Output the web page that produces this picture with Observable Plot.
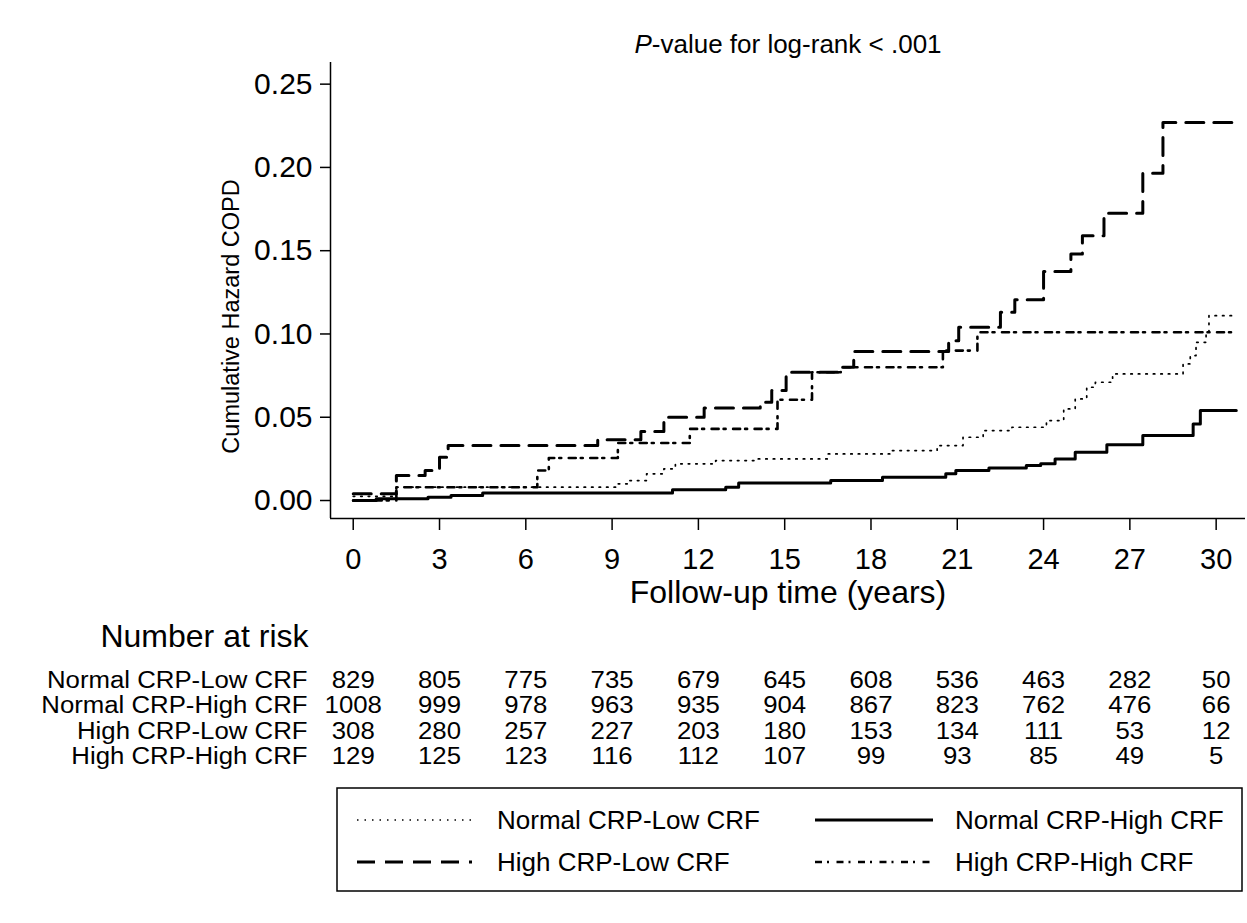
<!DOCTYPE html>
<html>
<head>
<meta charset="utf-8">
<script src="https://cdn.jsdelivr.net/npm/d3@7"></script>
<script src="https://cdn.jsdelivr.net/npm/@observablehq/plot@0.6"></script>
<style>
  html, body { margin: 0; padding: 0; background: #fff; }
  #chart { width: 1247px; height: 923px; }
</style>
</head>
<body>
<div id="chart"></div>
<script>
// ---------------- DATA ----------------
const groups = ["Normal CRP-Low CRF", "Normal CRP-High CRF", "High CRP-Low CRF", "High CRP-High CRF"];

// Normal CRP-Low CRF (dotted) – step times and cumulative hazard
const tNL = [0, 1.5, 9.2, 9.6, 10.2, 10.8, 11.2, 12.6, 14.0, 16.5, 18.7, 20.3, 21.2, 21.9, 22.9, 24.1, 24.7, 25.1, 25.5, 25.8, 26.4, 28.85, 29.1, 29.3, 29.65, 29.75];
const vNL = [0.0025, 0.008, 0.010, 0.012, 0.016, 0.019, 0.022, 0.024, 0.025, 0.028, 0.030, 0.033, 0.038, 0.042, 0.044, 0.048, 0.055, 0.061, 0.068, 0.071, 0.076, 0.082, 0.087, 0.095, 0.101, 0.111];
const endNL = 30.7;

// Normal CRP-High CRF (solid)
const tNH = [0, 0.8, 2.6, 3.4, 4.5, 11.1, 12.95, 13.4, 16.6, 18.4, 20.6, 20.95, 22.1, 23.4, 23.9, 24.4, 25.1, 26.2, 27.45, 29.2, 29.45];
const vNH = [0.000, 0.001, 0.002, 0.003, 0.0045, 0.0065, 0.008, 0.0105, 0.012, 0.014, 0.016, 0.018, 0.0195, 0.021, 0.022, 0.025, 0.029, 0.0335, 0.039, 0.046, 0.054];
const endNH = 30.7;

// High CRP-Low CRF (dashed)
const tHL = [0, 1.5, 2.5, 3.0, 3.3, 8.5, 10.0, 10.8, 12.2, 14.15, 14.55, 15.05, 16.9, 17.4, 20.7, 21.05, 22.5, 23.0, 24.0, 24.95, 25.35, 26.1, 27.45, 28.15];
const vHL = [0.004, 0.015, 0.018, 0.026, 0.033, 0.0365, 0.0415, 0.050, 0.0555, 0.059, 0.066, 0.077, 0.080, 0.0895, 0.096, 0.104, 0.113, 0.1205, 0.1375, 0.148, 0.159, 0.1725, 0.1965, 0.227];
const endHL = 30.85;

// High CRP-High CRF (dash-dot)
const tHH = [0, 1.5, 6.4, 6.8, 9.2, 11.7, 14.75, 15.95, 16.95, 20.5, 21.7];
const vHH = [0.000, 0.008, 0.018, 0.0255, 0.0345, 0.043, 0.0605, 0.077, 0.080, 0.090, 0.101];
const endHH = 30.6;

// Number at risk
const riskTimes = [0, 3, 6, 9, 12, 15, 18, 21, 24, 27, 30];
const riskNL = [829, 805, 775, 735, 679, 645, 608, 536, 463, 282, 50];
const riskNH = [1008, 999, 978, 963, 935, 904, 867, 823, 762, 476, 66];
const riskHL = [308, 280, 257, 227, 203, 180, 153, 134, 111, 53, 12];
const riskHH = [129, 125, 123, 116, 112, 107, 99, 93, 85, 49, 5];

// Axes
const xTicks = [0, 3, 6, 9, 12, 15, 18, 21, 24, 27, 30];
const yTicks = [0, 0.05, 0.10, 0.15, 0.20, 0.25];
const titleText = "P-value for log-rank < .001";
const yLabel = "Cumulative Hazard COPD";
const xLabel = "Follow-up time (years)";
const riskTitle = "Number at risk";

// ---------------- CHART ----------------
const FONT = "'Liberation Sans', Arial, Helvetica, sans-serif";

const series = [
  {name: groups[0], t: tNL, v: vNL, end: endNL, risk: riskNL, dash: "1.5,6", width: 1.7},
  {name: groups[1], t: tNH, v: vNH, end: endNH, risk: riskNH, dash: null, width: 3},
  {name: groups[2], t: tHL, v: vHL, end: endHL, risk: riskHL, dash: "18,10", width: 3},
  {name: groups[3], t: tHH, v: vHH, end: endHH, risk: riskHH, dash: "7,5,2,7.5", width: 2.6}
];
const lineOrder = [0, 2, 3, 1];

function steps(s) {
  const rows = s.t.map((t, i) => ({t, v: s.v[i]}));
  rows.push({t: s.end, v: s.v[s.v.length - 1]});
  return rows;
}

const xDomain = [-0.79, 31.02];
const yDomain = [-0.0108, 0.263];
const rowDy = [162, 187.5, 213, 238.5];
const RISK_FS = 23;

const marks = [
  Plot.ruleX([xDomain[0]], {strokeWidth: 1.5}),
  Plot.ruleY([yDomain[0]], {strokeWidth: 1.5}),
  Plot.axisY({ticks: yTicks, tickFormat: d3.format(".2f"), tickSize: 10, tickPadding: 8, fontSize: 30, label: null, strokeWidth: 1.5}),
  Plot.axisX({ticks: xTicks, tickFormat: d => String(d), tickSize: 12, tickPadding: 18, fontSize: 29, label: null, strokeWidth: 1.5}),
  ...lineOrder.map(i => {
    const s = series[i];
    const o = {x: "t", y: "v", curve: "step-after", stroke: "black", strokeWidth: s.width};
    if (s.dash) o.strokeDasharray = s.dash;
    return Plot.line(steps(s), o);
  }),
  Plot.text([titleText], {frameAnchor: "top", lineAnchor: "middle", textAnchor: "middle", dy: -18, fontSize: 26}),
  Plot.text([yLabel], {frameAnchor: "left", lineAnchor: "middle", textAnchor: "middle", rotate: -90, dx: -99, dy: 26, fontSize: 23.5}),
  Plot.text([xLabel], {frameAnchor: "bottom", lineAnchor: "middle", textAnchor: "middle", dy: 74, fontSize: 32}),
  Plot.text([riskTitle], {frameAnchor: "bottom-left", lineAnchor: "middle", textAnchor: "end", dx: -22, dy: 118, fontSize: 32})
];

series.forEach((s, i) => {
  const rows = riskTimes.map((t, k) => ({t, n: s.risk[k]}));
  marks.push(Plot.text(rows, {x: "t", text: d => String(d.n), frameAnchor: "bottom", lineAnchor: "middle", textAnchor: "middle", dy: rowDy[i], fontSize: RISK_FS, className: "risk"}));
  marks.push(Plot.text([s.name], {frameAnchor: "bottom-left", lineAnchor: "middle", textAnchor: "end", dx: -23, dy: rowDy[i], fontSize: RISK_FS, className: "risk"}));
});

const svgNode = Plot.plot({
  width: 1247,
  height: 923,
  marginLeft: 330,
  marginRight: 2,
  marginTop: 62,
  marginBottom: 405,
  style: {fontFamily: FONT, background: "white", color: "black", overflow: "visible"},
  x: {domain: xDomain},
  y: {domain: yDomain},
  marks
});
document.getElementById("chart").appendChild(svgNode);

const svg = d3.select(svgNode);

// italic "P" in the title
svg.selectAll("text").filter(function () { return this.textContent === titleText; }).each(function () {
  const el = d3.select(this);
  el.text(null);
  el.append("tspan").attr("font-style", "italic").text(titleText.slice(0, 1));
  el.append("tspan").text(titleText.slice(1));
});

// the reference's risk-table text is a little wider than its height suggests
svg.selectAll("g.risk text").each(function () {
  const w = this.getComputedTextLength();
  if (w > 0) this.setAttribute("textLength", (w * 1.12).toFixed(1)), this.setAttribute("lengthAdjust", "spacingAndGlyphs");
});

// legend box
const lg = svg.append("g").attr("font-family", FONT).attr("font-size", 26).attr("text-anchor", "start");
lg.append("rect").attr("x", 337).attr("y", 788).attr("width", 905).attr("height", 103)
  .attr("fill", "none").attr("stroke", "black").attr("stroke-width", 1.5);
const cols = [{x1: 357, x2: 472, tx: 497}, {x1: 815, x2: 933, tx: 955}];
const legRows = [820, 862];
series.forEach((s, i) => {
  const c = cols[i % 2], y = legRows[Math.floor(i / 2)];
  const ln = lg.append("line").attr("x1", c.x1).attr("x2", c.x2).attr("y1", y).attr("y2", y)
    .attr("stroke", "black").attr("stroke-width", s.width);
  if (s.dash) ln.attr("stroke-dasharray", s.dash);
  lg.append("text").attr("x", c.tx).attr("y", y).attr("dy", "0.35em").attr("text-anchor", "start").attr("fill", "black").text(s.name);
});
</script>
</body>
</html>
